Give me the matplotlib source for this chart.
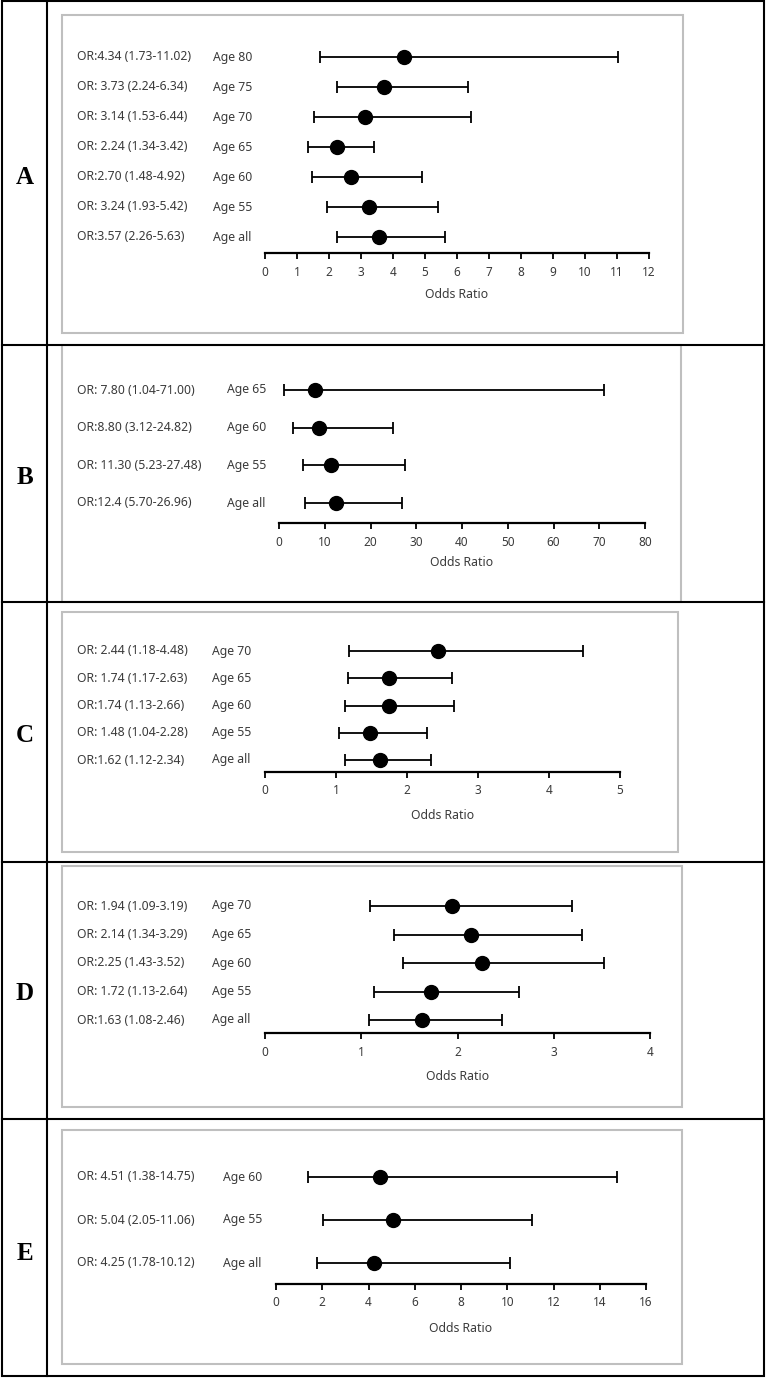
import matplotlib.pyplot as plt
from matplotlib.patches import Rectangle
from matplotlib.lines import Line2D
from matplotlib.transforms import blended_transform_factory

W, H = 766, 1378

# panel A
a_ages = ["Age 80", "Age 75", "Age 70", "Age 65", "Age 60", "Age 55", "Age all"]
a_or = [4.34, 3.73, 3.14, 2.24, 2.70, 3.24, 3.57]
a_lo = [1.73, 2.24, 1.53, 1.34, 1.48, 1.93, 2.26]
a_hi = [11.02, 6.34, 6.44, 3.42, 4.92, 5.42, 5.63]
a_txt = ["OR:4.34 (1.73-11.02)", "OR: 3.73 (2.24-6.34)", "OR: 3.14 (1.53-6.44)",
         "OR: 2.24 (1.34-3.42)", "OR:2.70 (1.48-4.92)", "OR: 3.24 (1.93-5.42)",
         "OR:3.57 (2.26-5.63)"]
a_ticks = list(range(0, 13))

# panel B
b_ages = ["Age 65", "Age 60", "Age 55", "Age all"]
b_or = [7.80, 8.80, 11.30, 12.4]
b_lo = [1.04, 3.12, 5.23, 5.70]
b_hi = [71.00, 24.82, 27.48, 26.96]
b_txt = ["OR: 7.80 (1.04-71.00)", "OR:8.80 (3.12-24.82)", "OR: 11.30 (5.23-27.48)",
         "OR:12.4 (5.70-26.96)"]
b_ticks = list(range(0, 81, 10))

# panel C
c_ages = ["Age 70", "Age 65", "Age 60", "Age 55", "Age all"]
c_or = [2.44, 1.74, 1.74, 1.48, 1.62]
c_lo = [1.18, 1.17, 1.13, 1.04, 1.12]
c_hi = [4.48, 2.63, 2.66, 2.28, 2.34]
c_txt = ["OR: 2.44 (1.18-4.48)", "OR: 1.74 (1.17-2.63)", "OR:1.74 (1.13-2.66)",
         "OR: 1.48 (1.04-2.28)", "OR:1.62 (1.12-2.34)"]
c_ticks = list(range(0, 6))

# panel D
d_ages = ["Age 70", "Age 65", "Age 60", "Age 55", "Age all"]
d_or = [1.94, 2.14, 2.25, 1.72, 1.63]
d_lo = [1.09, 1.34, 1.43, 1.13, 1.08]
d_hi = [3.19, 3.29, 3.52, 2.64, 2.46]
d_txt = ["OR: 1.94 (1.09-3.19)", "OR: 2.14 (1.34-3.29)", "OR:2.25 (1.43-3.52)",
         "OR: 1.72 (1.13-2.64)", "OR:1.63 (1.08-2.46)"]
d_ticks = list(range(0, 5))

# panel E
e_ages = ["Age 60", "Age 55", "Age all"]
e_or = [4.51, 5.04, 4.25]
e_lo = [1.38, 2.05, 1.78]
e_hi = [14.75, 11.06, 10.12]
e_txt = ["OR: 4.51 (1.38-14.75)", "OR: 5.04 (2.05-11.06)", "OR: 4.25 (1.78-10.12)"]
e_ticks = list(range(0, 17, 2))

letters = ["A", "B", "C", "D", "E"]

layout = [
    dict(ly=178, box=(62, 15, 683, 333), ax0=265, ax1=649, axy=253, ytop=57, ybot=237, agex=213, oy=295),
    dict(ly=478, box=(62, 345, 681, 602), ax0=279, ax1=645, axy=523, ytop=390, ybot=503, agex=227, oy=563),
    dict(ly=735, box=(62, 612, 678, 852), ax0=265, ax1=620, axy=772, ytop=651, ybot=760, agex=212, oy=815),
    dict(ly=993, box=(62, 866, 682, 1107), ax0=265, ax1=650, axy=1033, ytop=906, ybot=1020, agex=212, oy=1076),
    dict(ly=1253, box=(62, 1130, 682, 1364), ax0=276, ax1=646, axy=1284, ytop=1177, ybot=1263, agex=223, oy=1328),
]
panels = [
    (a_ages, a_or, a_lo, a_hi, a_txt, a_ticks),
    (b_ages, b_or, b_lo, b_hi, b_txt, b_ticks),
    (c_ages, c_or, c_lo, c_hi, c_txt, c_ticks),
    (d_ages, d_or, d_lo, d_hi, d_txt, d_ticks),
    (e_ages, e_or, e_lo, e_hi, e_txt, e_ticks),
]
row_lines = [345, 602, 862, 1119]

plt.rcParams["font.family"] = ["Noto Sans", "DejaVu Sans"]
txt_color = "#3a3a3a"
fs = 8.8

fig = plt.figure(figsize=(W / 100, H / 100), dpi=100)


def fx(px):
    return px / W


def fy(py):
    return 1 - py / H


# table grid
fig.add_artist(Rectangle((fx(2), fy(1376)), fx(764) - fx(2), fy(1) - fy(1376),
                         transform=fig.transFigure, fill=False, ec="black", lw=1.5))
fig.add_artist(Line2D([fx(47), fx(47)], [fy(1), fy(1376)], transform=fig.transFigure,
                      color="black", lw=1.5))
for y in row_lines:
    fig.add_artist(Line2D([fx(2), fx(764)], [fy(y), fy(y)], transform=fig.transFigure,
                          color="black", lw=1.5))

for letter, lay, (ages, ors, lo, hi, txt, ticks) in zip(letters, layout, panels):
    x0, y0, x1, y1 = lay["box"]
    fig.add_artist(Rectangle((fx(x0), fy(y1)), fx(x1) - fx(x0), fy(y0) - fy(y1),
                             transform=fig.transFigure, fill=False, ec="#bfbfbf", lw=1.5))
    fig.text(fx(25), fy(lay["ly"]), letter, ha="center", va="center",
             family="Liberation Serif", weight="bold", fontsize=18)

    n = len(ages)
    sp = (lay["ybot"] - lay["ytop"]) / (n - 1)
    top_px = lay["ytop"] - 0.6 * sp
    ax = fig.add_axes([fx(lay["ax0"]), fy(lay["axy"]), fx(lay["ax1"]) - fx(lay["ax0"]),
                       fy(top_px) - fy(lay["axy"])])
    ypos = list(range(n - 1, -1, -1))
    ax.set_ylim(-(lay["axy"] - lay["ybot"]) / sp, n - 1 + 0.6)
    ax.set_xlim(ticks[0], ticks[-1])
    ax.patch.set_alpha(0)

    xerr = [[o - l for o, l in zip(ors, lo)], [h - o for o, h in zip(ors, hi)]]
    ax.errorbar(ors, ypos, xerr=xerr, fmt="o", color="black", ms=10, lw=1.3,
                capsize=4, capthick=1.3, clip_on=False)

    for s in ["left", "right", "top"]:
        ax.spines[s].set_visible(False)
    ax.spines["bottom"].set_linewidth(1.6)
    ax.set_yticks([])
    ax.set_xticks(ticks)
    ax.tick_params(axis="x", direction="out", length=4, width=1.3, pad=5,
                   labelsize=8.5, labelcolor=txt_color)

    tr = blended_transform_factory(fig.transFigure, ax.transData)
    for y, a, t in zip(ypos, ages, txt):
        ax.text(fx(77), y, t, transform=tr, ha="left", va="center",
                fontsize=fs, color=txt_color)
        ax.text(fx(lay["agex"]), y, a, transform=tr, ha="left", va="center",
                fontsize=fs, color=txt_color)

    fig.text(fx((lay["ax0"] + lay["ax1"]) / 2), fy(lay["oy"]), "Odds Ratio",
             ha="center", va="center", fontsize=fs, color=txt_color)

fig.savefig("out.png", dpi=100)
